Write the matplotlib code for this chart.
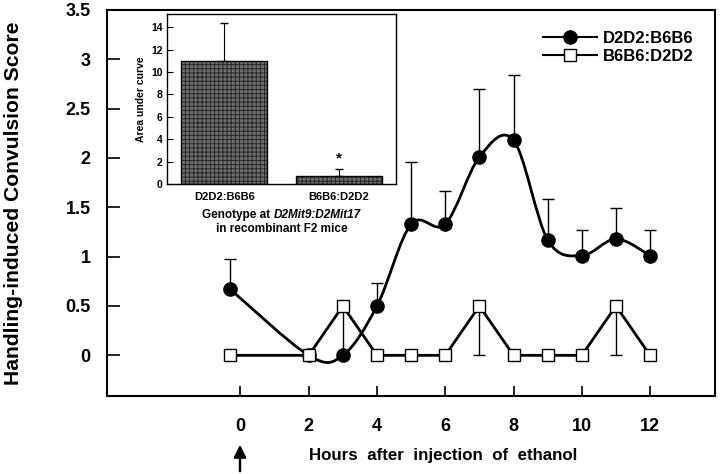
import matplotlib.pyplot as plt
import numpy as np
from matplotlib.path import Path
from matplotlib.patches import PathPatch
from matplotlib.offsetbox import TextArea, HPacker, VPacker, AnnotationBbox

plt.rcParams['font.family'] = ['Liberation Sans', 'DejaVu Sans']
plt.rcParams['font.weight'] = 'bold'
plt.rcParams['hatch.linewidth'] = 0.7

# main series (hours after injection)
hours_d2 = [-0.3, 2, 3, 4, 5, 6, 7, 8, 9, 10, 11, 12]
score_d2 = [0.67, 0, 0, 0.5, 1.33, 1.33, 2.01, 2.18, 1.17, 1.01, 1.18, 1.01]
err_d2 = [0.31, 0, 0, 0.23, 0.63, 0.34, 0.69, 0.66, 0.41, 0.26, 0.31, 0.26]

hours_b6 = [-0.3, 2, 3, 4, 5, 6, 7, 8, 9, 10, 11, 12]
score_b6 = [0, 0, 0.5, 0, 0, 0, 0.5, 0, 0, 0, 0.5, 0]
err_b6 = [0, 0, 0.5, 0, 0, 0, 0.5, 0, 0, 0, 0.5, 0]

# inset
genotypes = ['D2D2:B6B6', 'B6B6:D2D2']
auc = [10.95, 0.68]
auc_err = [3.45, 0.66]


def smooth_path(xs, ys):
    # Catmull-Rom through the points, as cubic bezier segments
    p = np.column_stack([xs, ys]).astype(float)
    n = len(p)
    verts = [p[0]]
    codes = [Path.MOVETO]
    for i in range(n - 1):
        p0 = p[max(i - 1, 0)]
        p3 = p[min(i + 2, n - 1)]
        c1 = p[i] + (p[i + 1] - p0) / 6
        c2 = p[i + 1] - (p3 - p[i]) / 6
        verts += [c1, c2, p[i + 1]]
        codes += [Path.CURVE4] * 3
    return Path(verts, codes)


fig = plt.figure(figsize=(7.2, 4.74), dpi=100)
ax = fig.add_axes([0.149, 0.165, 0.844, 0.814])

ax.add_patch(PathPatch(smooth_path(hours_d2, score_d2), fill=False,
                       lw=2, ec='black', zorder=2))
ax.errorbar(hours_d2, score_d2, yerr=[np.zeros(len(err_d2)), err_d2],
            fmt='none', ecolor='black', elinewidth=1, capsize=4, zorder=1)
ax.plot(hours_d2, score_d2, 'o', color='black', markersize=9.5, zorder=3)

ax.plot(hours_b6, score_b6, '-', color='black', lw=2, zorder=4)
ax.errorbar(hours_b6, score_b6, yerr=[err_b6, np.zeros(len(err_b6))],
            fmt='none', ecolor='black', elinewidth=1, capsize=4, zorder=4)
ax.plot(hours_b6, score_b6, 's', mfc='white', mec='black', mew=1,
        markersize=9, zorder=5)

# legend
l1, = ax.plot([], [], '-o', color='black', lw=1.5, markersize=9.5)
l2, = ax.plot([], [], '-s', color='black', lw=1.5, markersize=9,
              mfc='white', mew=1)
ax.legend([l1, l2], ['D2D2:B6B6', 'B6B6:D2D2'], loc='upper right',
          frameon=False, fontsize=12, handlelength=3.2,
          bbox_to_anchor=(0.99, 0.985), labelspacing=0.2, handletextpad=0.4)

ax.set_xlim(-3.9, 13.9)
ax.set_ylim(-0.41, 3.5)
ax.set_xticks([0, 2, 4, 6, 8, 10, 12])
ax.set_yticks([0, 0.5, 1, 1.5, 2, 2.5, 3, 3.5])
ax.set_yticklabels(['0', '0.5', '1', '1.5', '2', '2.5', '3', '3.5'])
ax.tick_params(axis='y', direction='in', length=9, width=1.2, pad=12,
               labelsize=13)
ax.tick_params(axis='x', direction='in', length=7, width=1.2, pad=16,
               labelsize=13)
ax.tick_params(right=False, top=False)
for s in ax.spines.values():
    s.set_linewidth(1.5)

ax.set_ylabel('Handling-induced Convulsion Score', fontsize=15.2,
              fontweight='bold')
ax.yaxis.set_label_coords(-0.138, 0.5)
fig.text(0.615, 0.04, 'Hours  after  injection  of  ethanol',
         ha='center', va='center', fontsize=12.2, fontweight='bold')
ax.annotate('', xy=(240, 474 - 442), xycoords='figure pixels',
            xytext=(240, 0), textcoords='figure pixels',
            arrowprops=dict(arrowstyle='-|>', color='black', lw=1.8,
                            mutation_scale=18))

# inset
ins = fig.add_axes([0.232, 0.612, 0.318, 0.359])
ins.bar([0, 1], auc, width=0.75, color='#6e6e6e', edgecolor='#262626',
        hatch='++++', lw=0)
ins.bar([0, 1], auc, width=0.75, fill=False, edgecolor='black', lw=1)
ins.errorbar([0, 1], auc, yerr=[[0, 0], auc_err], fmt='none',
             ecolor='black', elinewidth=0.8, capsize=3)
ins.text(1, auc[1] + auc_err[1] + 0.3, '*', ha='center', va='bottom',
         fontsize=11)
ins.set_xlim(-0.5, 1.5)
ins.set_ylim(0, 15.2)
ins.set_yticks(range(0, 15, 2))
ins.set_xticks([0, 1])
ins.set_xticklabels(genotypes)
ins.tick_params(axis='y', direction='in', length=4, labelsize=7.5, pad=3)
ins.tick_params(axis='x', length=0, labelsize=8, pad=6)
ins.set_ylabel('Area under curve', fontsize=7.5, fontweight='bold',
               labelpad=4)
for s in ins.spines.values():
    s.set_linewidth(1)

tp = dict(fontsize=8.5, fontweight='bold')
line1 = HPacker(children=[TextArea('Genotype at ', textprops=tp),
                          TextArea('D2Mit9:D2Mit17',
                                   textprops=dict(tp, style='italic'))],
                pad=0, sep=0)
line2 = TextArea('in recombinant F2 mice', textprops=tp)
box = VPacker(children=[line1, line2], align='center', pad=0, sep=1)
ins.add_artist(AnnotationBbox(box, (0.5, -0.15), xycoords='axes fraction',
                              box_alignment=(0.5, 1), frameon=False))

fig.savefig('out.png', dpi=100)
